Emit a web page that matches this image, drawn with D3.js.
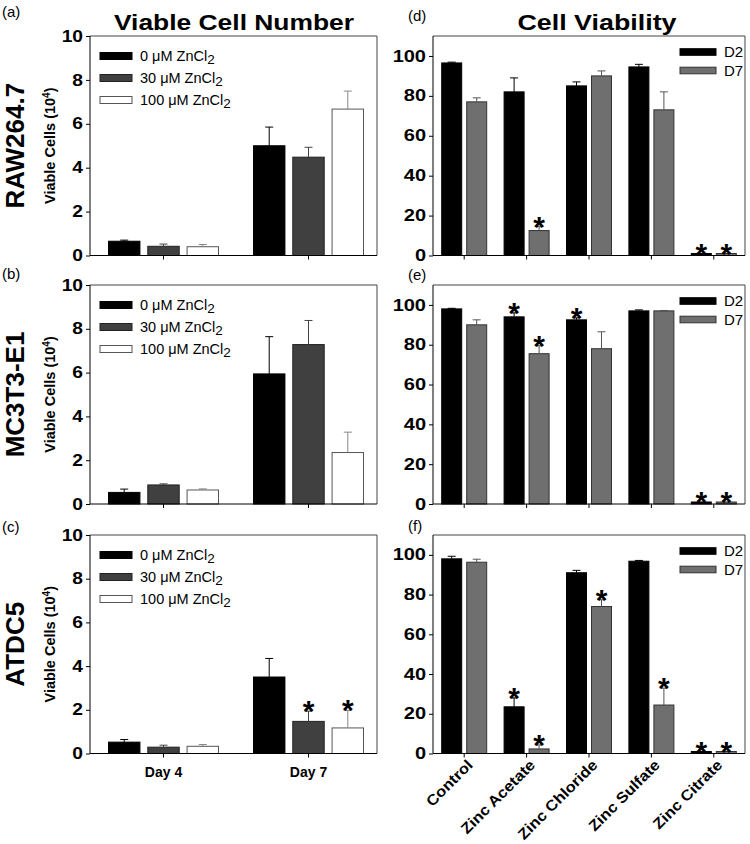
<!doctype html>
<html lang="en">
<head>
<meta charset="utf-8">
<title>zinc viability</title>
<style>
body { margin: 0; background: #fff; }
text { font-family: Arial, "Liberation Sans", sans-serif; }
</style>
</head>
<body>
<div id="fig"></div>
<script src="https://d3js.org/d3.v7.min.js"></script>
<script>
// ---------------- data
var days = ["Day 4", "Day 7"];
var doses = ["0", "30", "100"];
var cellLines = ["RAW264.7", "MC3T3-E1", "ATDC5"];
var leftTags = ["(a)", "(b)", "(c)"];
var rightTags = ["(d)", "(e)", "(f)"];
var leftTicks = [0, 2, 4, 6, 8, 10];
var rightTicks = [0, 20, 40, 60, 80, 100];

// viable cells (10^4), [day][dose]
var rawMean = [[0.65, 0.42, 0.40], [5.00, 4.48, 6.67]];
var rawErr  = [[0.05, 0.10, 0.10], [0.85, 0.45, 0.82]];
var rawStar = [[0, 0, 0], [0, 0, 0]];
var mcMean  = [[0.53, 0.87, 0.64], [5.94, 7.28, 2.35]];
var mcErr   = [[0.15, 0.05, 0.05], [1.70, 1.10, 0.93]];
var mcStar  = [[0, 0, 0], [0, 0, 0]];
var atMean  = [[0.52, 0.29, 0.33], [3.50, 1.47, 1.17]];
var atErr   = [[0.12, 0.09, 0.08], [0.85, 0.47, 0.80]];
var atStar  = [[0, 0, 0], [0, 1, 1]];

// cell viability (%)
var salts = ["Control", "Zinc Acetate", "Zinc Chloride", "Zinc Sulfate", "Zinc Citrate"];
var series = ["D2", "D7"];
var dD2 = [96.5, 82, 85, 94.5, 1],   dD2err = [0.4, 7, 2, 1.3, 0],   dD2star = [0, 0, 0, 0, 1];
var dD7 = [77, 12.5, 90, 73, 1],     dD7err = [2, 2, 2.5, 9, 0],     dD7star = [0, 1, 0, 0, 1];
var eD2 = [98, 94, 92.5, 97, 1],     eD2err = [0.3, 2, 1, 0.5, 0],   eD2star = [0, 1, 1, 0, 1];
var eD7 = [90, 75.5, 78, 97, 1],     eD7err = [2.5, 4, 8.5, 0.2, 0], eD7star = [0, 1, 0, 0, 1];
var fD2 = [98, 23.5, 91, 96.8, 1],   fD2err = [1.3, 4.5, 1.2, 0.4, 0], fD2star = [0, 1, 0, 0, 1];
var fD7 = [96.3, 2.3, 74, 24.4, 1],  fD7err = [1.5, 2, 3.4, 8.5, 0], fD7star = [0, 1, 1, 1, 1];

var leftData = [
  {mean: rawMean, err: rawErr, star: rawStar},
  {mean: mcMean, err: mcErr, star: mcStar},
  {mean: atMean, err: atErr, star: atStar}];
var rightData = [
  {vals: [dD2, dD7], err: [dD2err, dD7err], star: [dD2star, dD7star]},
  {vals: [eD2, eD7], err: [eD2err, eD7err], star: [eD2star, eD7star]},
  {vals: [fD2, fD7], err: [fD2err, fD7err], star: [fD2star, fD7star]}];

// ---------------- layout
var width = 750, height = 844;
var rowTop = [36, 285, 535], rowBot = [255.5, 504, 753.5];
var lx0 = 90, lx1 = 377, rx0 = 433, rx1 = 745;
var leftTagY = [17, 279, 532], rightTagY = [21, 280, 531];

var leftFill = ["#000", "#404040", "#fff"], leftStroke = ["#000", "#222", "#555"], leftErr = ["#000", "#444", "#888"];
var rightFill = ["#000", "#6f6f6f"], rightStroke = ["#000", "#333"], rightErr = ["#000", "#555"];
var fontStack = "Arial, 'Liberation Sans', sans-serif";

var svg = d3.select("#fig").append("svg")
    .attr("width", width).attr("height", height)
    .style("background", "#fff");

// bold text in the figure is wider than Arial bold: stretch it
function stretch(sel, k) {
  sel.each(function() {
    var w = this.getComputedTextLength();
    d3.select(this).attr("textLength", w * k).attr("lengthAdjust", "spacingAndGlyphs");
  });
}

function frame(g, x0, x1, top, bot) {
  g.append("line").attr("x1", x0).attr("x2", x1).attr("y1", top).attr("y2", top).attr("stroke", "#444");
  g.append("line").attr("x1", x1).attr("x2", x1).attr("y1", top).attr("y2", bot).attr("stroke", "#444");
  g.append("line").attr("x1", x0).attr("x2", x0).attr("y1", top).attr("y2", bot).attr("stroke", "#000");
  g.append("line").attr("x1", x0).attr("x2", x1).attr("y1", bot).attr("y2", bot).attr("stroke", "#000");
}

function errBar(g, cx, y0, y1, col) {
  g.append("line").attr("x1", cx).attr("x2", cx).attr("y1", y0).attr("y2", y1).attr("stroke", col);
  g.append("line").attr("x1", cx - 4).attr("x2", cx + 4).attr("y1", y1).attr("y2", y1).attr("stroke", col);
}

function star(g, cx, yTop) {
  g.append("text").attr("x", cx).attr("y", yTop + 10)
    .attr("text-anchor", "middle").attr("font-size", 30).attr("font-weight", "bold")
    .text("*");
}

// ---------------- left column: viable cell number
leftData.forEach(function(p, i) {
  var top = rowTop[i], bot = rowBot[i];
  var g = svg.append("g");
  var y = d3.scaleLinear().domain([0, 10]).range([bot, top]);
  var x = d3.scaleBand().domain(days).range([91, 381]);
  var xi = d3.scaleBand().domain([0, 1, 2]).range([-55, 55]).paddingInner(0.2);

  days.forEach(function(day, di) {
    doses.forEach(function(dose, k) {
      var v = p.mean[di][k], e = p.err[di][k];
      var bx = x(day) + x.bandwidth() / 2 + xi(k);
      g.append("rect").attr("x", bx).attr("y", y(v))
        .attr("width", xi.bandwidth()).attr("height", bot - y(v))
        .attr("fill", leftFill[k]).attr("stroke", leftStroke[k]);
      var cx = bx + xi.bandwidth() / 2;
      errBar(g, cx, y(v), y(v + e), leftErr[k]);
      if (p.star[di][k]) star(g, cx, y(v + e));
    });
  });

  frame(g, lx0, lx1, top, bot);

  var ya = g.append("g").attr("transform", "translate(" + lx0 + ",0)")
    .call(d3.axisLeft(y).tickValues(leftTicks).tickSize(4).tickSizeOuter(0).tickPadding(3));
  ya.select(".domain").remove();
  ya.selectAll("text").attr("font-size", 16).attr("font-weight", "bold").attr("font-family", fontStack);
  stretch(ya.selectAll("text"), 1.2);

  var xa = g.append("g").attr("transform", "translate(0," + bot + ")")
    .call(d3.axisBottom(x).tickSize(4).tickSizeOuter(0).tickPadding(10)
      .tickFormat(i === 2 ? null : function() { return ""; }));
  xa.select(".domain").remove();
  xa.selectAll("text").attr("font-size", 14).attr("font-weight", "bold").attr("font-family", fontStack);

  // legend
  doses.forEach(function(dose, k) {
    var ly = top + 20 + 22 * k;
    g.append("rect").attr("x", 100).attr("y", ly - 3.5).attr("width", 32).attr("height", 7)
      .attr("fill", leftFill[k]).attr("stroke", leftStroke[k]);
    var t = g.append("text").attr("x", 140).attr("y", ly + 5).attr("font-size", 14.5);
    t.append("tspan").text(dose + " \u03bcM ZnCl");
    t.append("tspan").attr("dy", 3).attr("font-size", 13.5).text("2");
  });

  // labels
  g.append("text").attr("x", 2).attr("y", leftTagY[i]).attr("font-size", 15).text(leftTags[i]);
  g.append("text").attr("transform", "translate(24," + (top + bot) / 2 + ") rotate(-90)")
    .attr("text-anchor", "middle").attr("font-size", 26).attr("font-weight", "bold").text(cellLines[i]);
  var yl = g.append("text").attr("transform", "translate(55," + (top + bot) / 2 + ") rotate(-90)")
    .attr("text-anchor", "middle").attr("font-size", 14.5).attr("font-weight", "bold");
  yl.append("tspan").text("Viable Cells (10");
  yl.append("tspan").attr("dy", -5).attr("font-size", 10).text("4");
  yl.append("tspan").attr("dy", 5).text(")");
});

// ---------------- right column: cell viability
rightData.forEach(function(p, i) {
  var top = rowTop[i], bot = rowBot[i];
  var g = svg.append("g");
  var y = d3.scaleLinear().domain([0, 110]).range([bot, top]);
  var x = d3.scaleBand().domain(salts).range([rx0, rx1]);
  var xi = d3.scaleBand().domain(series).range([-22.5, 22.5]).paddingInner(0.2);

  series.forEach(function(s, si) {
    salts.forEach(function(salt, k) {
      var v = p.vals[si][k], e = p.err[si][k];
      var bx = x(salt) + x.bandwidth() / 2 + xi(s);
      g.append("rect").attr("x", bx).attr("y", y(v))
        .attr("width", xi.bandwidth()).attr("height", bot - y(v))
        .attr("fill", rightFill[si]).attr("stroke", rightStroke[si]);
      var cx = bx + xi.bandwidth() / 2;
      if (e > 0) errBar(g, cx, y(v), y(v + e), rightErr[si]);
      if (p.star[si][k]) star(g, cx, y(v + e));
    });
  });

  frame(g, rx0, rx1, top, bot);

  var ya = g.append("g").attr("transform", "translate(" + rx0 + ",0)")
    .call(d3.axisLeft(y).tickValues(rightTicks).tickSize(4).tickSizeOuter(0).tickPadding(3));
  ya.select(".domain").remove();
  ya.selectAll("text").attr("font-size", 16).attr("font-weight", "bold").attr("font-family", fontStack);
  stretch(ya.selectAll("text"), 1.25);

  var xa = g.append("g").attr("transform", "translate(0," + bot + ")")
    .call(d3.axisBottom(x).tickSize(4).tickSizeOuter(0)
      .tickFormat(i === 2 ? null : function() { return ""; }));
  xa.select(".domain").remove();
  var xl = xa.selectAll("text")
    .attr("font-size", 15).attr("font-weight", "bold").attr("font-family", fontStack)
    .attr("text-anchor", "end").attr("x", 0).attr("y", 0).attr("dy", "0.7em")
    .attr("transform", "translate(2,5) rotate(-45)");
  stretch(xl, 1.1);

  // legend
  series.forEach(function(s, si) {
    var ly = top + 16 + 18.5 * si;
    g.append("rect").attr("x", 680).attr("y", ly - 3.3).attr("width", 36).attr("height", 6.6)
      .attr("fill", rightFill[si]).attr("stroke", rightStroke[si]);
    g.append("text").attr("x", 724).attr("y", ly).attr("dy", "0.36em").attr("font-size", 15).text(s);
  });

  g.append("text").attr("x", 408).attr("y", rightTagY[i]).attr("font-size", 15).text(rightTags[i]);
});

// ---------------- titles
var t1 = svg.append("text").attr("x", 234).attr("y", 30).attr("text-anchor", "middle")
  .attr("font-size", 22).attr("font-weight", "bold").text("Viable Cell Number");
var t2 = svg.append("text").attr("x", 597).attr("y", 30).attr("text-anchor", "middle")
  .attr("font-size", 22).attr("font-weight", "bold").text("Cell Viability");
stretch(t1, 1.2);
stretch(t2, 1.22);
</script>
</body>
</html>
